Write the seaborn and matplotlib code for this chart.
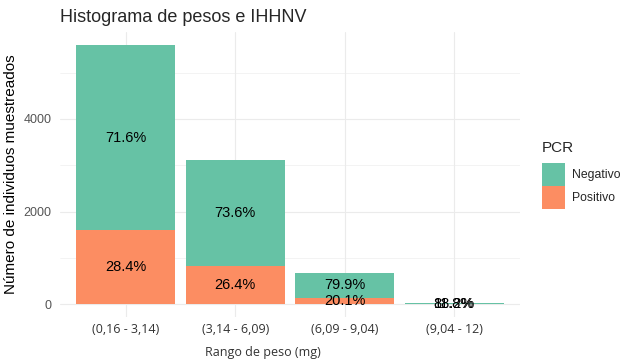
import numpy as np
import pandas as pd
import matplotlib
matplotlib.use("Agg")
import matplotlib.pyplot as plt
import seaborn as sns
from matplotlib.patches import Patch

rangos = ["(0,16 - 3,14)", "(3,14 - 6,09)", "(6,09 - 9,04)", "(9,04 - 12)"]
negativo = [4010, 2289, 535, 15]
positivo = [1590, 821, 135, 2]

col_neg = "#66C2A5"
col_pos = "#FC8D62"

df = pd.DataFrame({"rango": rangos, "Negativo": negativo, "Positivo": positivo})
df["total"] = df["Negativo"] + df["Positivo"]
df["pct_neg"] = df["Negativo"] / df["total"] * 100
df["pct_pos"] = df["Positivo"] / df["total"] * 100

sns.set_style("white")
plt.rcParams["font.family"] = ["Liberation Sans", "DejaVu Sans"]

W, H = 635, 362
fig = plt.figure(figsize=(W / 100, H / 100), dpi=100)
ax = fig.add_axes([60 / W, 1 - 317 / H, 460 / W, 285 / H])

# grid (theme_minimal look)
for v in [1000, 3000, 5000]:
    ax.axhline(v, color="#EBEBEB", lw=0.4, zorder=0)
for v in [0, 2000, 4000]:
    ax.axhline(v, color="#EBEBEB", lw=0.8, zorder=0)
for i in range(len(rangos)):
    ax.axvline(i, color="#EBEBEB", lw=0.8, zorder=0)

sns.barplot(data=df, x="rango", y="total", color=col_neg, width=0.9,
            saturation=1, linewidth=0, edgecolor="none", ax=ax, zorder=2)
sns.barplot(data=df, x="rango", y="Positivo", color=col_pos, width=0.9,
            saturation=1, linewidth=0, edgecolor="none", ax=ax, zorder=3)

for i, r in df.iterrows():
    ax.text(i, r["Positivo"] + r["Negativo"] / 2, f"{r['pct_neg']:.1f}%",
            ha="center", va="center", fontsize=10.5, color="black", zorder=4)
    ax.text(i, r["Positivo"] / 2, f"{r['pct_pos']:.1f}%",
            ha="center", va="center", fontsize=10.5, color="black", zorder=4)

ax.set_xlim(-0.6, 3.6)
ax.set_ylim(-280, 5880)
ax.set_yticks([0, 2000, 4000])
ax.set_yticklabels(["0", "2000", "4000"])
for s in ax.spines.values():
    s.set_visible(False)
ax.tick_params(axis="y", length=0, pad=6, labelsize=9, labelcolor="#555555")
ax.tick_params(axis="x", length=0, pad=4)
for lab in ax.get_xticklabels():
    lab.set_fontfamily("Open Sans")
    lab.set_fontsize(9)
    lab.set_color("#333333")

ax.set_ylabel("Número de individuos muestreados", fontsize=11, color="black")
ax.yaxis.set_label_coords(-0.092, 0.5)
ax.set_xlabel("Rango de peso (mg)", fontsize=9, family="Open Sans", color="#333333")
ax.xaxis.set_label_coords(0.442, -0.123)
ax.xaxis.label.set_verticalalignment("center")

fig.text(60 / W, 1 - 18 / H, "Histograma de pesos e IHHNV", fontsize=13,
         ha="left", va="center")

# legend: title placed separately to get the gap right
fig.text(542 / W, 1 - 148 / H, "PCR", fontsize=11, ha="left", va="center")
handles = [Patch(facecolor=col_neg, edgecolor="none", label="Negativo"),
           Patch(facecolor=col_pos, edgecolor="none", label="Positivo")]
leg = fig.legend(handles=handles, loc="upper left",
                 bbox_to_anchor=(542 / W, 1 - 163 / H), frameon=False,
                 fontsize=8.8, handlelength=1.9,
                 handleheight=2.5, labelspacing=0, handletextpad=0.55,
                 borderpad=0, borderaxespad=0)

fig.savefig("out.png", dpi=100)
